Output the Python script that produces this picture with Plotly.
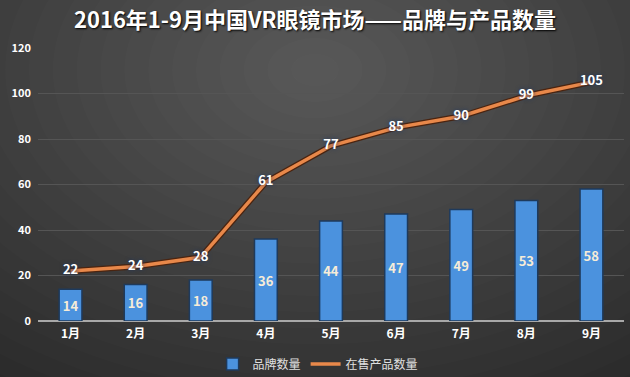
import plotly.graph_objects as go

months = ["1月", "2月", "3月", "4月", "5月", "6月", "7月", "8月", "9月"]
brands = [14, 16, 18, 36, 44, 47, 49, 53, 58]
products = [22, 24, 28, 61, 77, 85, 90, 99, 105]
y_ticks = [0, 20, 40, 60, 80, 100, 120]

FONT = "Noto Sans CJK SC, Open Sans, sans-serif"
W, H = 630, 377
L, R, T, B = 38, 6, 48, 56
pw, ph = W - L - R, H - T - B

def px(x):
    return (x - L) / pw

def py(y):
    return (H - B - y) / ph

fig = go.Figure()

fig.add_trace(go.Bar(
    x=months, y=brands, name="品牌数量",
    marker=dict(color="#4b92de", line=dict(color="#1e3a5c", width=1.5)),
    width=0.35,
    text=brands, textposition="inside", insidetextanchor="middle",
    textfont=dict(color="#f6ecd8", size=13, family=FONT, weight="bold"),
    cliponaxis=False,
))

# dark underline for the orange line
fig.add_trace(go.Scatter(
    x=months, y=products, mode="lines",
    line=dict(color="#4a2410", width=6), showlegend=False, hoverinfo="skip",
))
fig.add_trace(go.Scatter(
    x=months, y=products, name="在售产品数量", mode="lines+text",
    line=dict(color="#e8884a", width=3.5),
    text=products, textposition="middle center",
    textfont=dict(color="white", size=13, family=FONT, weight="bold",
                  shadow="0px 0px 4px #1d3766"),
    cliponaxis=False,
))

# radial-ish background glow
shapes = []
cx, cy = 315, 70
n = 26
for i in range(n):
    f = (n - i) / n
    rx, ry = 620 * f, 420 * f
    shapes.append(dict(
        type="circle", xref="paper", yref="paper", layer="below",
        x0=px(cx - rx), x1=px(cx + rx), y0=py(cy + ry), y1=py(cy - ry),
        fillcolor="#ffffff", opacity=0.012, line=dict(width=0),
    ))

fig.update_layout(
    width=W, height=H,
    margin=dict(l=L, r=R, t=T, b=B, autoexpand=False),
    paper_bgcolor="#242424", plot_bgcolor="rgba(0,0,0,0)",
    title=dict(text="2016年1-9月中国VR眼镜市场——品牌与产品数量",
               x=0.5, xref="container", xanchor="center", y=1 - 20 / H, yanchor="middle",
               font=dict(color="white", size=22, family=FONT, weight="bold",
                         shadow="1px 1px 2px #000000")),
    font=dict(family=FONT, color="white"),
    showlegend=True,
    legend=dict(orientation="h", x=0.478, xanchor="center", y=py(364), yanchor="middle",
                font=dict(color="#e0e0e0", size=12, family=FONT),
                bgcolor="rgba(0,0,0,0)", itemwidth=30),
    shapes=shapes,
)
fig.update_xaxes(range=[-0.5, 8.5], showgrid=False, showline=False, zeroline=False,
                 tickfont=dict(color="white", size=12, family=FONT, weight="bold"),
                 ticks="", ticklabelstandoff=4)
fig.update_yaxes(range=[0, 120], tickvals=y_ticks, showgrid=True, gridcolor="#555555",
                 gridwidth=1, zeroline=True, zerolinecolor="#a8a8a8", zerolinewidth=1.5,
                 tickfont=dict(color="white", size=11, family=FONT, weight="bold"),
                 ticks="", ticklabelstandoff=6)

fig.write_html("out.html", config={"displayModeBar": False},
               post_script="document.body.style.margin='0px';document.body.style.overflow='hidden';")
